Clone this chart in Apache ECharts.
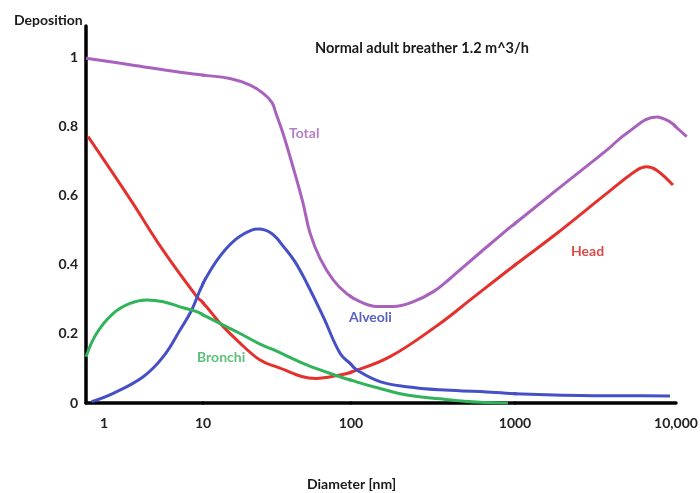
<!DOCTYPE html>
<html><head><meta charset="utf-8">
<script src="https://cdn.jsdelivr.net/npm/echarts@6/dist/echarts.min.js"></script>
<style>html,body{margin:0;padding:0;background:#fff}#chart{width:700px;height:493px}</style>
</head><body><div id="chart"></div>
<script>
// ---- data (diameter in nm, deposition fraction) ----
const totalNm  = [0.658, 1.83, 5.86, 10, 15.2, 20.8, 25.4, 29.2, 31.1, 34.7, 40.6, 47.4, 52.9, 61.8, 76.0, 93.5, 113.5, 143.5, 181, 240, 318, 402, 449, 889, 1000, 1815, 3715, 4943, 7586, 9183, 10000, 11650];
const totalDep = [0.997, 0.978, 0.956, 0.948, 0.938, 0.919, 0.896, 0.869, 0.838, 0.780, 0.682, 0.578, 0.491, 0.418, 0.355, 0.316, 0.293, 0.279, 0.279, 0.293, 0.322, 0.360, 0.380, 0.500, 0.519, 0.616, 0.731, 0.780, 0.827, 0.813, 0.798, 0.770];

const headNm  = [0.69, 1.83, 3.94, 8.69, 10, 11.5, 13.0, 17.8, 24.3, 31.1, 58.0, 84.3, 100, 173, 349, 533, 1000, 1815, 3715, 5700, 6577, 7586, 9575];
const headDep = [0.770, 0.590, 0.442, 0.307, 0.290, 0.259, 0.231, 0.173, 0.124, 0.105, 0.071, 0.081, 0.089, 0.134, 0.230, 0.298, 0.399, 0.490, 0.606, 0.673, 0.683, 0.673, 0.630];

const alveoliNm  = [0.75, 1.24, 2.49, 3.97, 5.86, 7.69, 10, 12.7, 16.4, 21.3, 23.7, 29.1, 35.8, 41.9, 50.2, 65.0, 84.3, 100, 108.8, 150, 219, 349, 612, 1000, 2534, 5180, 9180];
const alveoliDep = [0.004, 0.028, 0.076, 0.134, 0.211, 0.269, 0.345, 0.418, 0.471, 0.500, 0.503, 0.490, 0.447, 0.408, 0.347, 0.249, 0.144, 0.112, 0.095, 0.062, 0.047, 0.038, 0.033, 0.027, 0.022, 0.021, 0.020];

const bronchiNm  = [0.658, 0.84, 1.24, 1.83, 2.70, 3.97, 5.86, 8.63, 10, 13.0, 17.8, 24.3, 29.9, 50.2, 84.3, 100, 137, 219, 349, 612, 906];
const bronchiDep = [0.134, 0.201, 0.259, 0.288, 0.298, 0.293, 0.278, 0.264, 0.255, 0.230, 0.201, 0.170, 0.154, 0.110, 0.076, 0.066, 0.047, 0.023, 0.012, 0.002, 0.0];

const xTickValues = [1, 10, 100, 1000, 10000];
const xTickLabels = ['1', '10', '100', '1000', '10,000'];
const yTickValues = [0, 0.2, 0.4, 0.6, 0.8, 1];

// ---- styling / layout ----
const FONT = 'Lato, "Open Sans", "Liberation Sans", sans-serif';
const curves = [
  {name: 'Total',   nm: totalNm,   dep: totalDep,   color: '#a862be'},
  {name: 'Head',    nm: headNm,    dep: headDep,    color: '#e4312d'},
  {name: 'Alveoli', nm: alveoliNm, dep: alveoliDep, color: '#4650c6'},
  {name: 'Bronchi', nm: bronchiNm, dep: bronchiDep, color: '#31b35a'}
];
// the hand-drawn axis has unequal decade widths: one log decade per grid
const TOP = 26, HEIGHT = 377, YMAX = 1.09;
const segments = [
  {min: 0.6576, max: 10,    left: 86,  width: 117, line: true},
  {min: 10,     max: 100,   left: 203, width: 148, line: true},
  {min: 100,    max: 1000,  left: 351, width: 164, line: true},
  {min: 1000,   max: 10000, left: 515, width: 161, line: true},
  {min: 10000,  max: 11900, left: 676, width: 12.2, line: false}
];

// piecewise-log position along the whole drawn axis
function axisPos(x) {
  const lx = Math.log10(x);
  for (let i = 0; i < segments.length; i++) {
    const s = segments[i], a = Math.log10(s.min), b = Math.log10(s.max);
    if (lx <= b || i === segments.length - 1) return s.left + (lx - a) / (b - a) * s.width;
  }
}
// value that a segment's own log axis places at the same spot (identity inside the segment),
// so that every grid sees the same curve shape and the pieces join smoothly
function inSegment(x, s) {
  const a = Math.log10(s.min), b = Math.log10(s.max);
  if (x >= s.min && x <= s.max) return x;
  return Math.pow(10, a + (axisPos(x) - s.left) / s.width * (b - a));
}

const grids = [], xAxes = [], yAxes = [], series = [];
segments.forEach((seg, i) => {
  grids.push({left: seg.left, top: TOP, width: seg.width, height: HEIGHT, outerBoundsMode: 'none'});
  xAxes.push({
    type: 'log', logBase: 10, gridIndex: i, min: seg.min, max: seg.max,
    axisLine: {show: seg.line, onZero: false, lineStyle: {color: '#000', width: 3.5}},
    axisTick: {show: false}, splitLine: {show: false},
    axisLabel: {
      show: true, showMinLabel: true, showMaxLabel: true, margin: 13,
      color: '#222', fontSize: 14, fontWeight: 'bold', fontFamily: FONT,
      formatter: function (v) {
        for (let j = 0; j < xTickValues.length; j++) {
          const t = xTickValues[j];
          if (Math.abs(Math.log10(v) - Math.log10(t)) < 1e-6 &&
              t >= seg.min * (1 - 1e-9) && t < seg.max * (1 - 1e-9)) return xTickLabels[j];
        }
        return '';
      }
    }
  });
  yAxes.push({
    type: 'value', gridIndex: i, min: 0, max: YMAX, interval: 0.2, show: i === 0,
    axisLine: {show: true, lineStyle: {color: '#000', width: 3.5}},
    axisTick: {show: false}, splitLine: {show: false},
    axisLabel: {
      showMaxLabel: false, margin: 8, color: '#222', fontSize: 14, fontWeight: 'bold', fontFamily: FONT,
      formatter: function (v) {
        for (const t of yTickValues) if (Math.abs(v - t) < 1e-9) return String(t);
        return '';
      }
    }
  });
  curves.forEach(c => {
    series.push({
      type: 'line', name: c.name, xAxisIndex: i, yAxisIndex: i,
      data: c.nm.map((x, k) => [inSegment(x, seg), c.dep[k]]),
      showSymbol: false, smooth: 0.4, clip: true, silent: true,
      lineStyle: {color: c.color, width: 3}, itemStyle: {color: c.color},
      emphasis: {disabled: true}
    });
  });
});

const chart = echarts.init(document.getElementById('chart'), null, {renderer: 'canvas'});
chart.setOption({
  animation: false,
  backgroundColor: '#fff',
  title: [
    {text: 'Normal adult breather 1.2 m^3/h', left: 315, top: 41, padding: 0,
     textStyle: {fontSize: 14.5, fontWeight: 'bold', color: '#1a1a1a', fontFamily: FONT}},
    {text: 'Deposition', left: 14, top: 13, padding: 0,
     textStyle: {fontSize: 14, fontWeight: 'bold', color: '#1a1a1a', fontFamily: FONT}},
    {text: 'Diameter [nm]', left: 307, top: 477, padding: 0,
     textStyle: {fontSize: 14, fontWeight: 'bold', color: '#1a1a1a', fontFamily: FONT}}
  ],
  graphic: [
    {type: 'text', x: 289, y: 133, style: {text: 'Total', fill: '#b57fc7', fontSize: 14, fontWeight: 'bold', fontFamily: FONT, verticalAlign: 'middle'}},
    {type: 'text', x: 571, y: 251, style: {text: 'Head', fill: '#d94c48', fontSize: 14, fontWeight: 'bold', fontFamily: FONT, verticalAlign: 'middle'}},
    {type: 'text', x: 349, y: 317, style: {text: 'Alveoli', fill: '#5a61c2', fontSize: 14, fontWeight: 'bold', fontFamily: FONT, verticalAlign: 'middle'}},
    {type: 'text', x: 197, y: 357, style: {text: 'Bronchi', fill: '#5cbf7a', fontSize: 14, fontWeight: 'bold', fontFamily: FONT, verticalAlign: 'middle'}}
  ],
  grid: grids, xAxis: xAxes, yAxis: yAxes, series: series
});
</script></body></html>
